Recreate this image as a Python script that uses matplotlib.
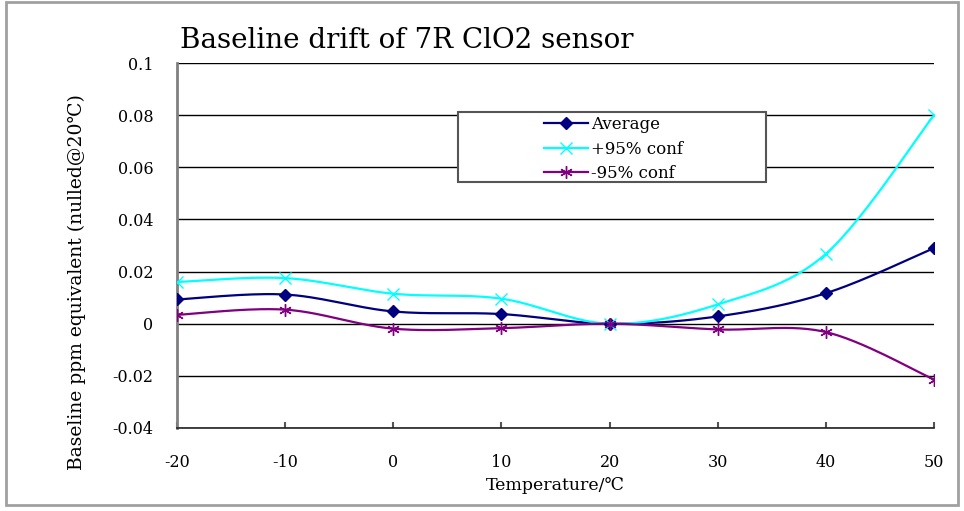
import matplotlib.pyplot as plt
from matplotlib.patches import Rectangle
import numpy as np

temps = [-20, -10, 0, 10, 20, 30, 40, 50]
average = [0.0093, 0.0112, 0.0047, 0.0037, 0.0, 0.0028, 0.0117, 0.0290]
upper95 = [0.0160, 0.0175, 0.0115, 0.0096, 0.0, 0.0074, 0.0268, 0.0800]
lower95 = [0.0034, 0.0054, -0.0019, -0.0017, 0.0, -0.0022, -0.0032, -0.0214]

yticks = [-0.04, -0.02, 0, 0.02, 0.04, 0.06, 0.08, 0.1]
ytick_labels = ['-0.04', '-0.02', '0', '0.02', '0.04', '0.06', '0.08', '0.1']

FONT = ['DejaVu Serif', 'DejaVu Sans']
plt.rcParams['font.family'] = FONT


def smooth(xs, ys, n=30):
    # Excel style smoothed line (Bezier through the points)
    x = np.asarray(xs, float)
    y = np.asarray(ys, float)
    px = np.concatenate([[x[0]], x, [x[-1]]])
    py = np.concatenate([[y[0]], y, [y[-1]]])
    ox, oy = [], []
    t = np.linspace(0, 1, n)
    for i in range(1, len(px) - 2):
        x0, x1 = px[i], px[i + 1]
        y0, y1 = py[i], py[i + 1]
        c1x = x0 + (px[i + 1] - px[i - 1]) / 6
        c1y = y0 + (py[i + 1] - py[i - 1]) / 6
        c2x = x1 - (px[i + 2] - px[i]) / 6
        c2y = y1 - (py[i + 2] - py[i]) / 6
        bx = (1-t)**3*x0 + 3*(1-t)**2*t*c1x + 3*(1-t)*t**2*c2x + t**3*x1
        by = (1-t)**3*y0 + 3*(1-t)**2*t*c1y + 3*(1-t)*t**2*c2y + t**3*y1
        ox.extend(bx)
        oy.extend(by)
    return ox, oy


fig = plt.figure(figsize=(9.64, 5.11), dpi=100, facecolor='white')
ax = fig.add_axes([177/964, 1 - 428/511, (934 - 177)/964, (428 - 63)/511])

series = [
    (average, 'Average', '#000080', 'D', 6),
    (upper95, '+95% conf', '#00FFFF', 'x', 8),
    (lower95, '-95% conf', '#800080', (6, 2, 0), 9),
]
for vals, name, col, mk, ms in series:
    sx, sy = smooth(temps, vals)
    ax.plot(sx, sy, color=col, lw=1.6, zorder=3)
    ax.plot(temps, vals, linestyle='none', marker=mk, ms=ms, color=col,
            mec=col, mew=1.0, zorder=4)
    ax.plot([], [], color=col, lw=1.6, marker=mk, ms=ms, mec=col, label=name)

ax.set_xlim(-20, 50)
ax.set_ylim(-0.04, 0.1)
ax.set_xticks(temps)
ax.set_xticklabels([str(v) for v in temps])
ax.set_yticks(yticks)
ax.set_yticklabels(ytick_labels)
ax.yaxis.grid(True, color='black', lw=1.0)
ax.set_axisbelow(True)
ax.tick_params(axis='x', direction='in', length=4, width=1.5, color='#555555',
               labelsize=11.5, pad=19)
ax.tick_params(axis='y', length=0, labelsize=11.5, pad=17)
for s in ['top', 'right']:
    ax.spines[s].set_visible(False)
ax.spines['left'].set_color('#808080')
ax.spines['left'].set_linewidth(2)
ax.spines['bottom'].set_color('#222222')
ax.spines['bottom'].set_linewidth(1.2)

ax.set_xlabel('Temperature/℃', fontsize=12.5, labelpad=4)
ax.set_ylabel('Baseline ppm equivalent (nulled@20℃)', fontsize=13.5)
ax.yaxis.set_label_coords(-0.12, 0.40)

fig.text(180/964, 1 - 40/511, 'Baseline drift of 7R ClO2 sensor',
         fontsize=20, va='center', ha='left')

# legend box
fig.patches.append(Rectangle((458/964, 1 - 182/511), (766 - 458)/964, 70/511,
                             transform=fig.transFigure, facecolor='white',
                             edgecolor='#555555', lw=1.5, zorder=5))
leg = fig.legend(loc='center left', bbox_to_anchor=(536/964, 1 - 149/511),
                 frameon=False, fontsize=12, handlelength=2.6, handletextpad=0.2,
                 labelspacing=0.45, borderpad=0)
leg.set_zorder(6)

# outer chart border
fig.patches.append(Rectangle((6/964, 6/511), 952/964, 503/511,
                             transform=fig.transFigure, fill=False,
                             edgecolor='#a0a0a0', lw=2))

plt.savefig('out.png', dpi=100, facecolor='white')
